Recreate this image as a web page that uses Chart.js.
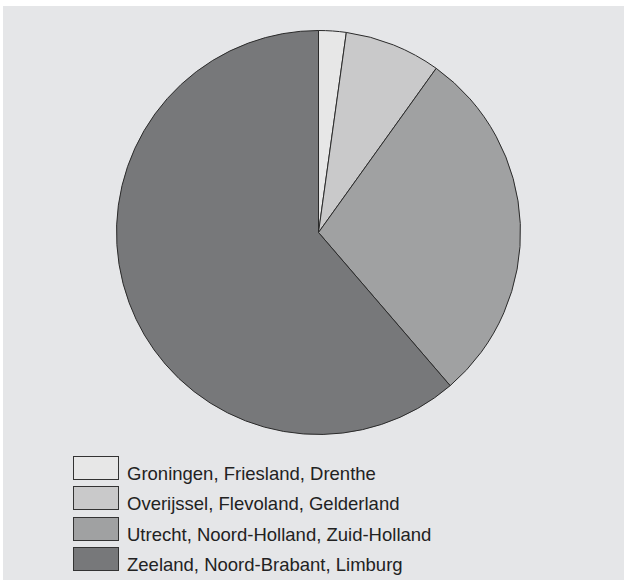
<!DOCTYPE html>
<html>
<head>
<meta charset="utf-8">
<script src="https://cdn.jsdelivr.net/npm/chart.js@4"></script>
<style>
  html, body { margin: 0; padding: 0; background: #fff; }
  body { width: 624px; height: 580px; position: relative; overflow: hidden;
         font-family: "Liberation Sans", Arial, sans-serif; }
  #panel { position: absolute; left: 3px; top: 6px; width: 621px; height: 574px; background: #e5e6e8; }
  #pie-wrap { position: absolute; left: 116px; top: 30px; width: 405px; height: 405px; }
  #legend { position: absolute; left: 73px; top: 456px; }
  .row { display: flex; align-items: flex-start; height: 30.3px; }
  .box { width: 44px; height: 22px; border: 1px solid #333; box-sizing: content-box; }
  .lbl { margin-left: 8px; font-size: 18.5px; line-height: 20px; color: #222; position: relative; top: 8px; }
</style>
</head>
<body>
<div id="panel"></div>
<div id="pie-wrap"><canvas id="pie"></canvas></div>
<div id="legend"></div>
<script>
// provinces grouped by region, share of total (%)
const regions = [
  'Groningen, Friesland, Drenthe',
  'Overijssel, Flevoland, Gelderland',
  'Utrecht, Noord-Holland, Zuid-Holland',
  'Zeeland, Noord-Brabant, Limburg',
];
const shares = [2.2, 7.7, 28.8, 61.3];
const fills  = ['#e7e7e7', '#c9c9ca', '#a0a1a2', '#77787a'];

new Chart(document.getElementById('pie'), {
  type: 'pie',
  data: {
    labels: regions,
    datasets: [{
      data: shares,
      backgroundColor: fills,
      borderColor: '#2a2a2a',
      borderWidth: 1,
    }],
  },
  options: {
    responsive: true,
    maintainAspectRatio: false,
    animation: false,
    layout: { padding: 0 },
    plugins: {
      legend: { display: false },
      tooltip: { enabled: false },
    },
  },
});

// legend below the pie, one region per row
const leg = document.getElementById('legend');
regions.forEach((r, i) => {
  const row = document.createElement('div');
  row.className = 'row';
  row.innerHTML = `<div class="box" style="background:${fills[i]}"></div><span class="lbl">${r}</span>`;
  leg.appendChild(row);
});
</script>
</body>
</html>
